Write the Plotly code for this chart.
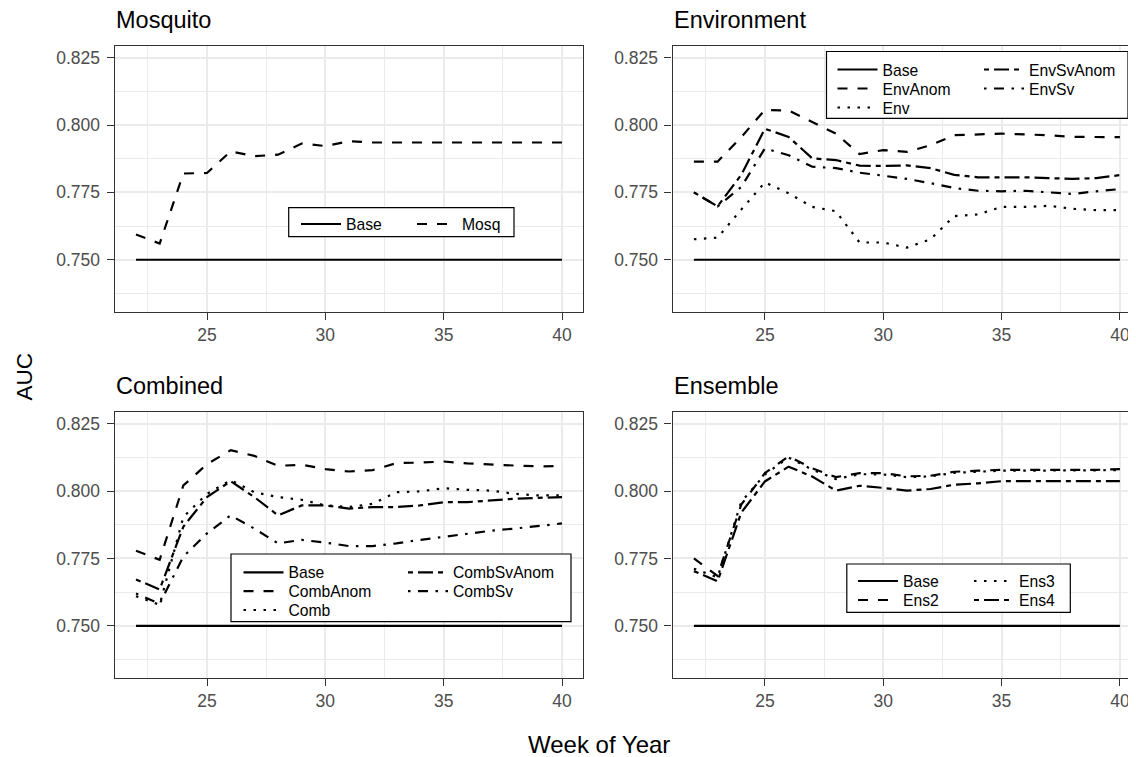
import plotly.graph_objects as go

# page offset of the plot div inside the browser window (body margin)
OFF = 8
PAGE_W, PAGE_H = 1136, 757
W, H = PAGE_W - OFF, PAGE_H - OFF

weeks = [22, 23, 24, 25, 26, 27, 28, 29, 30, 31, 32, 33, 34, 35, 36, 37, 38, 39, 40]

base = [0.750, 0.750, 0.750, 0.750, 0.750, 0.750, 0.750, 0.750, 0.750, 0.750,
        0.750, 0.750, 0.750, 0.750, 0.750, 0.750, 0.750, 0.750, 0.750]

mosq = [0.7594, 0.7560, 0.7820, 0.7822, 0.7902, 0.7884, 0.7890, 0.7931, 0.7922, 0.7940,
        0.7935, 0.7935, 0.7935, 0.7935, 0.7935, 0.7935, 0.7935, 0.7935, 0.7935]

env_anom = [0.7864, 0.7864, 0.7955, 0.8056, 0.8054, 0.8010, 0.7968, 0.7892, 0.7907, 0.7900,
            0.7925, 0.7962, 0.7964, 0.7968, 0.7965, 0.7962, 0.7956, 0.7955, 0.7955]
env = [0.7576, 0.7582, 0.7686, 0.7787, 0.7747, 0.7696, 0.7680, 0.7564, 0.7564, 0.7545,
       0.7576, 0.7662, 0.7668, 0.7696, 0.7696, 0.7700, 0.7689, 0.7684, 0.7684]
env_sv_anom = [0.7750, 0.7698, 0.7815, 0.7986, 0.7956, 0.7876, 0.7870, 0.7849, 0.7848, 0.7850,
               0.7840, 0.7815, 0.7806, 0.7806, 0.7806, 0.7803, 0.7800, 0.7803, 0.7814]
env_sv = [0.7750, 0.7698, 0.7770, 0.7913, 0.7888, 0.7845, 0.7840, 0.7823, 0.7812, 0.7800,
          0.7784, 0.7766, 0.7756, 0.7754, 0.7756, 0.7750, 0.7744, 0.7754, 0.7762]

comb_anom = [0.7779, 0.7745, 0.8021, 0.8100, 0.8152, 0.8131, 0.8094, 0.8098, 0.8082, 0.8073,
             0.8078, 0.8104, 0.8106, 0.8110, 0.8103, 0.8098, 0.8095, 0.8092, 0.8093]
comb = [0.7610, 0.7578, 0.7904, 0.7990, 0.8041, 0.7996, 0.7978, 0.7968, 0.7947, 0.7941,
        0.7953, 0.7996, 0.7999, 0.8011, 0.8005, 0.8002, 0.7990, 0.7984, 0.7984]
comb_sv_anom = [0.7672, 0.7635, 0.7868, 0.7978, 0.8037, 0.7978, 0.7910, 0.7947, 0.7947, 0.7935,
                0.7941, 0.7941, 0.7947, 0.7959, 0.7959, 0.7966, 0.7972, 0.7975, 0.7978]
comb_sv = [0.7620, 0.7582, 0.7757, 0.7843, 0.7910, 0.7861, 0.7806, 0.7819, 0.7809, 0.7796,
           0.7796, 0.7806, 0.7819, 0.7831, 0.7843, 0.7853, 0.7861, 0.7870, 0.7880]

ens2 = [0.7750, 0.7685, 0.7950, 0.8067, 0.8129, 0.8085, 0.8052, 0.8067, 0.8067, 0.8055,
        0.8057, 0.8072, 0.8076, 0.8079, 0.8079, 0.8079, 0.8079, 0.8079, 0.8082]
ens3 = [0.7712, 0.7680, 0.7960, 0.8062, 0.8125, 0.8080, 0.8045, 0.8063, 0.8062, 0.8052,
        0.8055, 0.8068, 0.8072, 0.8076, 0.8076, 0.8076, 0.8076, 0.8076, 0.8078]
ens4 = [0.7703, 0.7665, 0.7920, 0.8036, 0.8091, 0.8054, 0.8002, 0.8020, 0.8012, 0.8002,
        0.8008, 0.8024, 0.8029, 0.8037, 0.8037, 0.8037, 0.8037, 0.8037, 0.8037]

y_ticks = [0.750, 0.775, 0.800, 0.825]
y_minor = [0.7375, 0.7625, 0.7875, 0.8125]
x_ticks = [25, 30, 35, 40]
x_minor = [22.5, 27.5, 32.5, 37.5]

DASH = {
    "solid": "solid",
    "dashed": "10px,10px",
    "dotted": "2.5px,7.5px",
    "dotdash": "2.5px,7.5px,10px,7.5px",
    "twodash": "5px,5px,15px,5px",
}

FONT = "Liberation Sans, Arial, sans-serif"
LINE_W = 2.2
ITEM_W = 40


def px_x(v):
    return (v - OFF) / W


def px_y(v):
    return 1 - (v - OFF) / H


# panel geometry (page pixels)
LEFT = (114.7, 583.3)
RIGHT = (672.6, 1136.0)
TOP = (45.5, 312.3)
BOTTOM = (411.7, 678.3)
unit = (LEFT[1] - LEFT[0]) / 19.8
right_max = 21.1 + (RIGHT[1] - RIGHT[0]) / unit

panels = [
    ("Mosquito", "x", "y", LEFT, TOP,
     [("Base", base, "solid", (297, 224)), ("Mosq", mosq, "dashed", (413, 224))],
     (288.7, 207.7, 514, 236.7)),
    ("Environment", "x2", "y2", RIGHT, TOP,
     [("Base", base, "solid", (833.5, 69.5)), ("EnvAnom", env_anom, "dashed", (833.5, 88.5)),
      ("Env", env, "dotted", (833.5, 107.5)), ("EnvSvAnom", env_sv_anom, "twodash", (980, 69.5)),
      ("EnvSv", env_sv, "dotdash", (980, 88.5))],
     (826.5, 51.5, 1128, 118.3)),
    ("Combined", "x3", "y3", LEFT, BOTTOM,
     [("Base", base, "solid", (239.5, 572.3)), ("CombAnom", comb_anom, "dashed", (239.5, 591.2)),
      ("Comb", comb, "dotted", (239.5, 610)), ("CombSvAnom", comb_sv_anom, "twodash", (404, 572.3)),
      ("CombSv", comb_sv, "dotdash", (404, 591.2))],
     (231, 554, 571, 621.7)),
    ("Ensemble", "x4", "y4", RIGHT, BOTTOM,
     [("Base", base, "solid", (854, 581)), ("Ens2", ens2, "dashed", (854, 600)),
      ("Ens3", ens3, "dotted", (970, 581)), ("Ens4", ens4, "twodash", (970, 600))],
     (846.8, 564, 1070.3, 612.3)),
]

fig = go.Figure()
layout = dict(
    width=W, height=H,
    margin=dict(l=0, r=0, t=0, b=0),
    paper_bgcolor="white", plot_bgcolor="white",
    font=dict(family=FONT, color="black"),
    showlegend=True,
)
annotations = []
shapes = []
legend_idx = 0

tick_common = dict(
    ticks="outside", ticklen=7, tickwidth=1.3, tickcolor="#333333",
    tickfont=dict(size=17.5, color="#4D4D4D", family=FONT),
    showgrid=True, gridcolor="#EBEBEB", gridwidth=2,
    showline=True, linecolor="#333333", linewidth=1.3,
    zeroline=False, fixedrange=True,
)

for title, xid, yid, xpx, ypx, series, box in panels:
    xname = "xaxis" + xid[1:]
    yname = "yaxis" + yid[1:]
    is_right = xpx == RIGHT
    layout[xname] = dict(
        domain=[px_x(xpx[0]), px_x(xpx[1])],
        range=[21.1, right_max if is_right else 40.9],
        anchor=yid, tickvals=x_ticks,
        minor=dict(tickvals=x_minor, showgrid=True, gridcolor="#EBEBEB",
                   gridwidth=1, ticks=""),
        mirror=True, **tick_common,
    )
    layout[yname] = dict(
        domain=[px_y(ypx[1]), px_y(ypx[0])],
        range=[0.7305, 0.8295],
        anchor=xid, tickvals=y_ticks, tickformat=".3f", ticklabelstandoff=3,
        minor=dict(tickvals=y_minor, showgrid=True, gridcolor="#EBEBEB",
                   gridwidth=1, ticks=""),
        mirror=not is_right, **tick_common,
    )
    annotations.append(dict(
        text=title, xref="paper", yref="paper",
        x=px_x(xpx[0] - 0.5), y=px_y(ypx[0] - 25.5),
        xanchor="left", yanchor="middle", showarrow=False,
        font=dict(size=23.5, color="black", family=FONT),
    ))
    shapes.append(dict(
        type="rect", xref="paper", yref="paper",
        x0=px_x(box[0]), x1=px_x(box[2]), y0=px_y(box[3]), y1=px_y(box[1]),
        line=dict(color="black", width=1.2), fillcolor="white", layer="above",
    ))
    for name, vals, dash, (lx, ly) in series:
        legend_idx += 1
        lname = "legend" if legend_idx == 1 else "legend%d" % legend_idx
        fig.add_trace(go.Scatter(
            x=weeks, y=vals, mode="lines", name=name,
            line=dict(color="black", width=LINE_W, dash=DASH[dash]),
            xaxis=xid, yaxis=yid, legend=lname, showlegend=True,
            hoverinfo="x+y+name",
        ))
        layout[lname] = dict(
            x=px_x(lx + 4 - 5), y=px_y(ly - 16.7), xanchor="left", yanchor="top",
            bgcolor="rgba(0,0,0,0)", borderwidth=0,
            font=dict(size=15.7, color="black", family=FONT),
            itemwidth=ITEM_W, orientation="v",
        )

annotations.append(dict(
    text="AUC", xref="paper", yref="paper", x=px_x(23.5), y=px_y(377),
    xanchor="center", yanchor="middle", textangle=-90, showarrow=False,
    font=dict(size=22.5, color="black", family=FONT),
))
annotations.append(dict(
    text="Week of Year", xref="paper", yref="paper", x=px_x(598.5), y=px_y(744),
    xanchor="center", yanchor="middle", showarrow=False,
    font=dict(size=24, color="black", family=FONT),
))
layout["annotations"] = annotations
layout["shapes"] = shapes

fig.update_layout(**layout)
fig.write_html("out.html")
